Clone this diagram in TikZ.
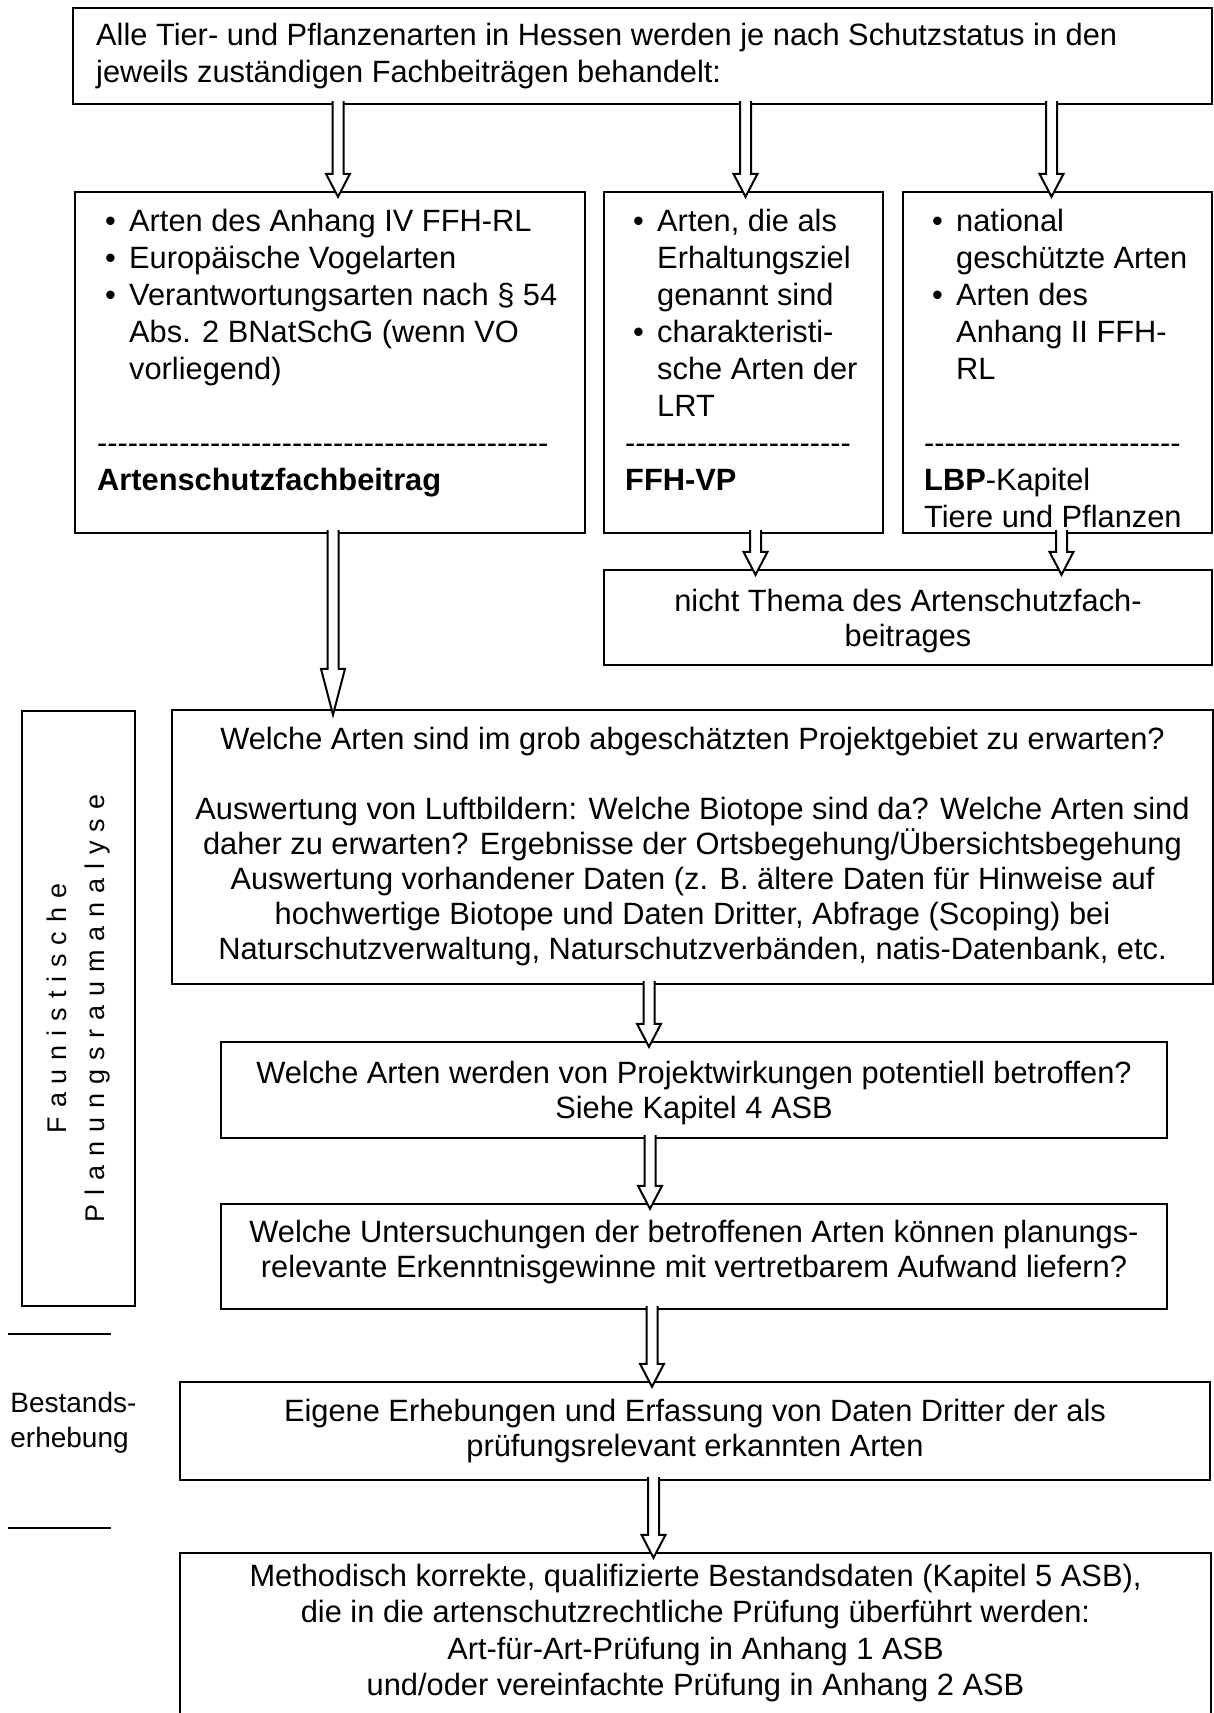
\documentclass[tikz,border=0pt]{standalone}
\usepackage{fontspec}
\setmainfont{Liberation Sans}
\newfontfamily\spacedfont[LetterSpace=33]{Liberation Sans}
\usetikzlibrary{calc,fit}

\tikzset{
  box/.style={draw, line width=1.2pt, inner sep=0pt},
  txt/.style={inner sep=0pt, align=left, font=\fontsize{15.4}{18.5}\selectfont},
  ctxt/.style={inner sep=0pt, align=center, font=\fontsize{15.4}{17.5}\selectfont},
  arrowline/.style={draw, line width=1pt, fill=white, line join=miter},
}
\newcommand{\bul}{\hspace*{4pt}\makebox[12pt][l]{\textbullet}}
\newcommand{\ind}{\hspace*{16pt}}
\newcommand{\dashes}[1]{\foreach \d in {1,...,#1}{-\kern0pt}}
% hollow block arrow: [head length]{from}{to}
\newcommand{\hollow}[3][23]{%
  \draw[arrowline]
    ($(#2)+(-5.5,-4)$) -- ($(#3)+(-5.5,6-#1)$) -- ($(#3)+(-12,6-#1)$) -- ($(#3)+(0,6)$)
    -- ($(#3)+(12,6-#1)$) -- ($(#3)+(5.5,6-#1)$) -- ($(#2)+(5.5,-4)$);}

\begin{document}
\begin{tikzpicture}[x=0.5pt, y=-0.5pt]
  \useasboundingbox (0,0) rectangle (1214,1713);

  % boxes
  \node[box, fit={(73,8) (1212,104)}] (top) {};
  \node[box, fit={(75,192) (585,533)}] (artb) {};
  \node[box, fit={(604,192) (883,533)}] (ffh) {};
  \node[box, fit={(903,192) (1212,533)}] (lbp) {};
  \node[box, fit={(604,570) (1212,665)}] (nicht) {};
  \node[box, fit={(22,711) (135,1306)}] (side) {};
  \node[box, fit={(172,710) (1213,984)}] (welche) {};
  \node[box, fit={(221,1042) (1167,1138)}] (betr) {};
  \node[box, fit={(221,1204) (1167,1309)}] (unters) {};
  \node[box, fit={(180,1382) (1210,1480)}] (erheb) {};
  \node[box, fit={(180,1553) (1211,1730)}] (daten) {};

  % texts
  \node[txt, anchor=north west] (toptxt) at ([shift={(24,16)}]top.north west)
    {Alle Tier- und Pflanzenarten in Hessen werden je nach Schutzstatus in den\\
     jeweils zuständigen Fachbeiträgen behandelt:};
  \node[txt, anchor=north west] (artbtxt) at ([shift={(23,18)}]artb.north west)
    {\bul Arten des Anhang IV FFH-RL\\
     \bul Europäische Vogelarten\\
     \bul Verantwortungsarten nach § 54\\
     \ind Abs. 2 BNatSchG (wenn VO\\
     \ind vorliegend)\\ \mbox{}\\
     \dashes{44}\\
     \textbf{Artenschutzfachbeitrag}};
  \node[txt, anchor=north west] (ffhtxt) at ([shift={(22,18)}]ffh.north west)
    {\bul Arten, die als\\
     \ind Erhaltungsziel\\
     \ind genannt sind\\
     \bul charakteristi-\\
     \ind sche Arten der\\
     \ind LRT\\
     \dashes{22}\\
     \textbf{FFH-VP}};
  \node[txt, anchor=north west] (lbptxt) at ([shift={(22,18)}]lbp.north west)
    {\bul national\\
     \ind geschützte Arten\\
     \bul Arten des\\
     \ind Anhang II FFH-\\
     \ind RL\\ \mbox{}\\
     \dashes{25}\\
     \textbf{LBP}-Kapitel\\
     Tiere und Pflanzen};
  \node[ctxt] (nichttxt) at ([yshift=-2pt]nicht.center)
    {nicht Thema des Artenschutzfach-\\beitrages};
  \node[ctxt] (welchetxt) at (welche.center)
    {Welche Arten sind im grob abgeschätzten Projektgebiet zu erwarten?\\ \mbox{}\\
     Auswertung von Luftbildern: Welche Biotope sind da? Welche Arten sind\\
     daher zu erwarten? Ergebnisse der Ortsbegehung/Übersichtsbegehung\\
     Auswertung vorhandener Daten (z. B. ältere Daten für Hinweise auf\\
     hochwertige Biotope und Daten Dritter, Abfrage (Scoping) bei\\
     Naturschutzverwaltung, Naturschutzverbänden, natis-Datenbank, etc.};
  \node[ctxt] (betrtxt) at ([yshift=-1.5pt]betr.center)
    {Welche Arten werden von Projektwirkungen potentiell betroffen?\\Siehe Kapitel 4 ASB};
  \node[ctxt] (unterstxt) at ([yshift=2pt]unters.center)
    {Welche Untersuchungen der betroffenen Arten können planungs-\\relevante Erkenntnisgewinne mit vertretbarem Aufwand liefern?};
  \node[ctxt] (erhebtxt) at (erheb.center)
    {Eigene Erhebungen und Erfassung von Daten Dritter der als\\prüfungsrelevant erkannten Arten};
  \node[ctxt, anchor=north, font=\fontsize{15.4}{18.2}\selectfont] (datentxt) at ([yshift=-6pt]daten.north)
    {Methodisch korrekte, qualifizierte Bestandsdaten (Kapitel 5 ASB),\\
     die in die artenschutzrechtliche Prüfung überführt werden:\\
     Art-für-Art-Prüfung in Anhang 1 ASB\\
     und/oder vereinfachte Prüfung in Anhang 2 ASB};
  \node[rotate=90, align=center, font=\fontsize{13.5}{19}\selectfont\spacedfont] (sidetxt) at (side.center)
    {Faunistische\\Planungsraumanalyse};
  \node[anchor=west, inner sep=0pt, align=left, font=\fontsize{14}{17.5}\selectfont] (bestand) at (10,1423)
    {Bestands-\\erhebung};
  \draw[line width=1pt] (8,1334) -- (111,1334);
  \draw[line width=1pt] (8,1528) -- (111,1528);

  % arrows
  \coordinate (a1) at ([xshift=4pt]artb.north);
  \coordinate (a2) at ([xshift=1pt]ffh.north);
  \coordinate (a3) at ([xshift=-3pt]lbp.north);
  \coordinate (a4) at ([xshift=1.5pt]artb.south);
  \coordinate (a5) at ([xshift=6pt]ffh.south);
  \coordinate (a6) at ([xshift=2pt]lbp.south);
  \coordinate (a7) at ([xshift=-22.5pt]betr.north);
  \coordinate (a8) at ([xshift=-22pt]unters.north);
  \coordinate (a9) at ([xshift=-21.5pt]erheb.north);
  \coordinate (a10) at ([xshift=-21pt]daten.north);
  \hollow{top.south -| a1}{a1}
  \hollow{top.south -| a2}{a2}
  \hollow{top.south -| a3}{a3}
  \hollow[46]{a4}{a4 |- welche.north}
  \hollow{a5}{a5 |- nicht.north}
  \hollow{a6}{a6 |- nicht.north}
  \hollow{welche.south -| a7}{a7}
  \hollow{betr.south -| a8}{a8}
  \hollow{unters.south -| a9}{a9}
  \hollow{erheb.south -| a10}{a10}
\end{tikzpicture}
\end{document}
